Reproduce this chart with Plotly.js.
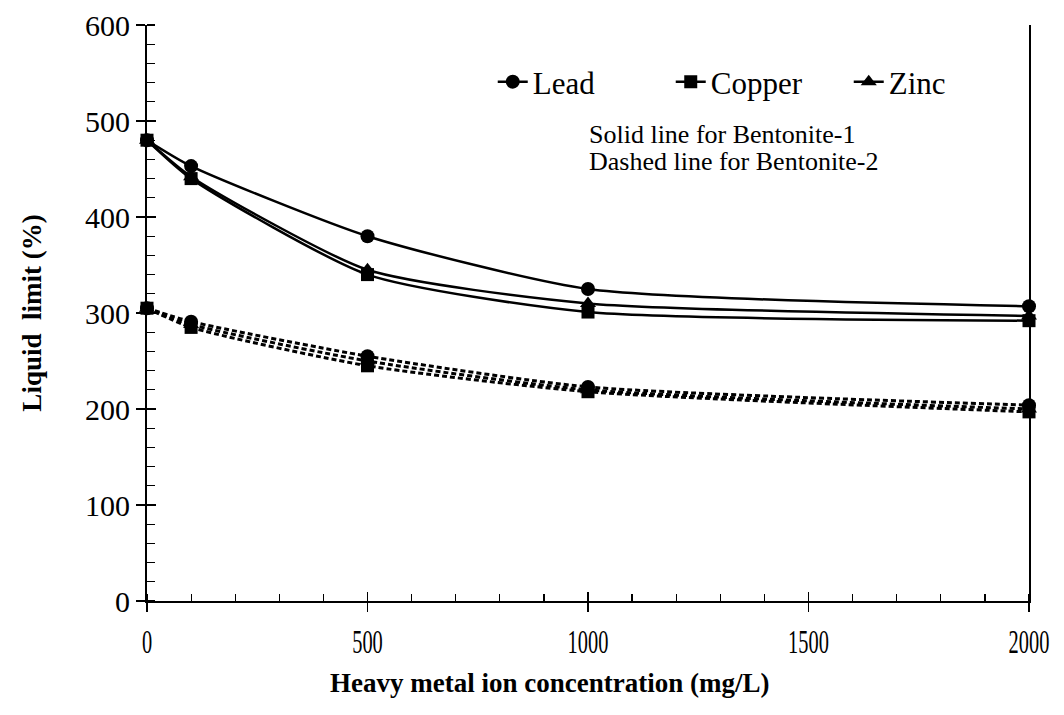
<!DOCTYPE html>
<html>
<head>
<meta charset="utf-8">
<script src="https://cdn.plot.ly/plotly-3.0.1.min.js"></script>
<style>
  html, body { margin: 0; padding: 0; background: #ffffff; }
  #chart { width: 1064px; height: 715px; }
</style>
</head>
<body>
<div id="chart"></div>
<script>
// Heavy metal ion concentration (mg/L)
const concentration = [0, 100, 500, 1000, 2000];

// Liquid limit (%) of Bentonite-1 (solid lines)
const leadB1   = [480, 453, 380, 325, 307];
const copperB1 = [480, 440, 340, 301, 292];
const zincB1   = [480, 442, 345, 310, 297];

// Liquid limit (%) of Bentonite-2 (dashed lines)
const leadB2   = [305, 291, 255, 223, 204];
const copperB2 = [305, 285, 245, 218, 197];
const zincB2   = [305, 288, 250, 220, 200];

const xTicks = [0, 500, 1000, 1500, 2000];
const yTicks = [0, 100, 200, 300, 400, 500, 600];

const serif = 'Liberation Serif, Times New Roman, serif';
const ink = '#000000';

function series(name, y, symbol, size, dashed) {
  return {
    type: 'scatter',
    mode: 'lines+markers',
    name: name,
    x: concentration,
    y: y,
    cliponaxis: false,
    showlegend: !dashed,
    line: dashed
      ? { color: ink, width: 3, shape: 'spline', smoothing: 0.6, dash: '5px,3px' }
      : { color: ink, width: 2.5, shape: 'spline', smoothing: 0.6 },
    marker: { symbol: symbol, size: size, color: ink }
  };
}

const traces = [
  series('Lead',   leadB1,   'circle',      14, false),
  series('Copper', copperB1, 'square',      13, false),
  series('Zinc',   zincB1,   'triangle-up', 14, false),
  series('Lead',   leadB2,   'circle',      14, true),
  series('Copper', copperB2, 'square',      13, true),
  series('Zinc',   zincB2,   'triangle-up', 14, true),
  // empty trace that carries the inner half of the major tick marks
  { type: 'scatter', x: [], y: [], xaxis: 'x2', yaxis: 'y2', showlegend: false, hoverinfo: 'skip' }
];

const layout = {
  width: 1064,
  height: 715,
  margin: { l: 147, r: 35, t: 25, b: 114 },
  paper_bgcolor: '#ffffff',
  plot_bgcolor: '#ffffff',
  font: { family: serif, color: ink, size: 30 },
  showlegend: true,
  legend: {
    orientation: 'h',
    x: 0.392, xanchor: 'left',
    y: 0.901, yanchor: 'middle',
    font: { family: serif, size: 31, color: ink },
    bgcolor: 'rgba(0,0,0,0)',
    itemwidth: 30,
    entrywidth: 133
  },
  xaxis: {
    range: [0, 2000],
    tickvals: xTicks,
    ticktext: xTicks.map(String),
    ticks: 'outside', ticklen: 9, tickwidth: 1.5, tickcolor: ink,
    minor: { dtick: 100, ticks: 'inside', ticklen: 7, tickwidth: 1.2, tickcolor: ink, showgrid: false },
    showline: true, linecolor: ink, linewidth: 2,
    showgrid: false, zeroline: false,
    tickfont: { family: serif, size: 34, color: ink },
    anchor: 'y'
  },
  yaxis: {
    range: [0, 600],
    tickvals: yTicks,
    ticktext: yTicks.map(String),
    ticks: 'outside', ticklen: 9, tickwidth: 1.5, tickcolor: ink,
    minor: { dtick: 20, ticks: 'inside', ticklen: 8, tickwidth: 1.2, tickcolor: ink, showgrid: false },
    showline: true, linecolor: ink, linewidth: 2, mirror: true,
    showgrid: false, zeroline: false,
    tickfont: { family: serif, size: 30, color: ink },
    title: {
      text: 'Liquid\u00a0 limit (%)',
      font: { family: serif, size: 27, color: ink, weight: 'bold' },
      standoff: 36
    },
    anchor: 'x'
  },
  xaxis2: {
    overlaying: 'x', matches: 'x', anchor: 'y2', side: 'bottom',
    tickvals: xTicks, ticks: 'inside', ticklen: 9, tickwidth: 1.5, tickcolor: ink,
    showticklabels: false, showline: false, showgrid: false, zeroline: false
  },
  yaxis2: {
    overlaying: 'y', matches: 'y', anchor: 'x2', side: 'left',
    tickvals: yTicks, ticks: 'inside', ticklen: 9, tickwidth: 1.5, tickcolor: ink,
    showticklabels: false, showline: false, showgrid: false, zeroline: false
  },
  annotations: [
    {
      xref: 'paper', yref: 'paper',
      x: 0.499, y: 0.810, xanchor: 'left', yanchor: 'middle',
      align: 'left', showarrow: false,
      text: 'Solid line for Bentonite-1',
      font: { family: serif, size: 26, color: ink }
    },
    {
      xref: 'paper', yref: 'paper',
      x: 0.499, y: 0.763, xanchor: 'left', yanchor: 'middle',
      align: 'left', showarrow: false,
      text: 'Dashed line for Bentonite-2',
      font: { family: serif, size: 26, color: ink }
    },
    {
      xref: 'paper', yref: 'paper',
      x: 0.456, y: -0.142, xanchor: 'center', yanchor: 'middle',
      showarrow: false,
      text: '<b>Heavy metal ion concentration (mg/L)</b>',
      font: { family: serif, size: 27, color: ink }
    }
  ]
};

// The concentration tick labels are set in a narrow face
function condenseTickLabels() {
  document.querySelectorAll('#chart .xtick text').forEach(function (t) {
    const tr = t.getAttribute('transform') || '';
    if (tr.indexOf('scale') === -1) {
      t.setAttribute('transform', tr + ' scale(0.6,1)');
    }
  });
}

Plotly.newPlot('chart', traces, layout, { displayModeBar: false, staticPlot: true })
  .then(function (gd) {
    condenseTickLabels();
    gd.on('plotly_afterplot', condenseTickLabels);
  });
</script>
</body>
</html>
